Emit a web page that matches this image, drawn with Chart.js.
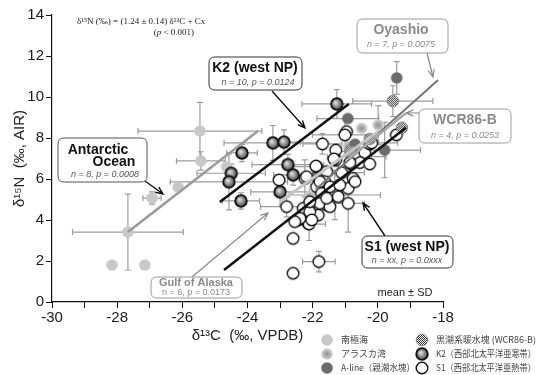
<!DOCTYPE html>
<html>
<head>
<meta charset="utf-8">
<script src="https://cdn.jsdelivr.net/npm/chart.js@4.4.0/dist/chart.umd.min.js"></script>
<style>
  html, body { margin: 0; padding: 0; background: #fff; }
  #wrap { width: 536px; height: 375px; }
</style>
</head>
<body>
<div id="wrap"><canvas id="chart" width="536" height="375"></canvas></div>
<script>
// ---- data ----
// 南極海 (Antarctic Ocean)
const antX  = [-27.67, -28.16, -27.15, -26.93, -26.13, -25.46, -25.43, -24.64];
const antY  = [3.41, 1.80, 1.80, 5.07, 5.60, 8.34, 6.88, 6.60];
const antXe = [1.70, 0, 0, 0.28, 0, 1.90, 0.75, 0];
const antYe = [1.85, 0, 0, 0.30, 0, 1.40, 0.45, 0];

// アラスカ湾 (Gulf of Alaska)
const gulfX  = [-20.50, -19.99, -21.32, -22.09, -21.60, -20.90];
const gulfY  = [8.47, 8.63, 7.00, 5.14, 6.30, 7.60];
const gulfXe = [0, 0, 0, 0, 0, 0];
const gulfYe = [0, 0.95, 0, 0, 0, 0];

// A-line (親潮水塊)
const alX  = [-19.42, -20.92, -20.70, -19.79, -21.35, -20.55, -21.90];
const alY  = [10.93, 8.95, 7.70, 7.41, 6.95, 6.80, 6.10];
const alXe = [0, 0.95, 0, 1.10, 0, 0, 0];
const alYe = [0.80, 0, 0, 1.35, 0, 0, 0];

// 黒潮系暖水塊 (WCR86-B)
const wcrX  = [-19.54, -19.26, -20.25, -20.85];
const wcrY  = [9.80, 8.50, 7.95, 7.35];
const wcrXe = [1.23, 0, 0, 0];
const wcrYe = [0.75, 0, 0, 0];

// K2 (西部北太平洋亜寒帯)
const k2X  = [-24.17, -24.50, -24.57, -24.20, -21.26, -23.22, -22.88, -22.76, -22.60, -23.00];
const k2Y  = [7.27, 6.28, 5.86, 4.93, 9.66, 7.76, 7.80, 6.70, 6.20, 5.37];
const k2Xe = [0.47, 1.05, 1.80, 0.57, 1.07, 1.50, 0.50, 1.10, 0.60, 0.90];
const k2Ye = [0.42, 0.45, 1.37, 0.40, 0.70, 0.85, 0.60, 0.50, 0.50, 0.70];

// S1 (西部北太平洋亜熱帯)
const s1X = [-21.70, -21.29, -20.65, -20.40, -21.88, -21.29, -20.81, -21.57, -21.11, -20.76,
             -23.03, -22.24, -21.63, -21.88, -21.37, -20.91, -21.73, -21.27, -22.80, -22.09,
             -21.57, -20.91, -22.29, -21.83, -22.44, -22.14, -22.29, -22.09, -21.78, -21.47,
             -21.32, -22.60, -21.81, -22.60, -20.96, -21.01, -20.25, -19.43, -20.19, -20.55,
             -20.86, -20.25, -21.90, -21.35, -22.11, -22.19, -21.78, -21.47, -21.22, -21.57,
             -22.09, -22.39, -22.03, -22.55, -20.70, -21.17];
const s1Y = [7.71, 7.41, 7.09, 7.28, 6.60, 6.93, 6.73, 6.36, 6.31, 6.03,
             5.95, 6.03, 5.87, 5.62, 5.54, 5.54, 5.30, 5.30, 4.65, 4.73,
             4.73, 4.81, 4.24, 4.24, 4.00, 3.84, 4.57, 4.40, 4.81, 4.65,
             5.22, 3.10, 1.97, 1.40, 8.31, 8.15, 7.71, 8.15, 7.76, 6.80,
             6.80, 6.73, 6.63, 6.98, 3.80, 6.11, 5.87, 5.62, 5.14, 5.06,
             4.89, 4.08, 4.00, 3.92, 5.87, 5.71];
const s1Xe = [0.6, 0, 0.9, 0, 1.0, 0, 0, 0, 0.7, 0,
              0, 0, 0, 0, 0, 0, 0, 0, 0.8, 0,
              0, 0.5, 0, 0, 0, 0, 0, 0, 0, 0,
              1.4, 0, 0.5, 0, 0, 1.0, 0, 0, 0.8, 0,
              0, 0, 0, 0, 0.5, 0, 0, 0, 0, 0,
              0, 0, 0, 0, 0, 0];
const s1Ye = [0.5, 0, 0, 0, 0, 0, 0, 0, 0, 0,
              0, 0.9, 0, 0, 0, 0, 0, 0, 0.5, 0,
              0, 1.4, 0, 0, 0, 0, 0, 0, 0, 0,
              1.2, 0, 0.5, 0, 0, 0.8, 0, 0, 0, 0,
              0.7, 0, 0, 0, 0.8, 0, 0, 0, 0, 0,
              0, 0, 0, 0, 0, 0];

// regression lines (end points)
const antLineX  = [-27.67, -23.68], antLineY  = [3.41, 8.34];
const k2LineX   = [-24.85, -20.89], k2LineY   = [4.88, 9.66];
const s1LineX   = [-24.72, -19.14], s1LineY   = [1.56, 8.50];
const oyaLineX  = [-21.90, -18.15], oyaLineY  = [5.50, 10.83];
const gulfLineX = [-23.00, -20.00], gulfLineY = [4.90, 8.30];
const wcrLineX  = [-20.90, -19.15], wcrLineY  = [7.00, 9.20];

const yTicks = [0, 2, 4, 6, 8, 10, 12, 14];
const xTicks = [-30, -28, -26, -24, -22, -20, -18];

// ---- markers ----
function makeMarker(kind) {
    const s = 16, r = 5.8, cx = s / 2, cy = s / 2;
    const c = document.createElement('canvas');
    c.width = s; c.height = s;
    const g = c.getContext('2d');
    g.beginPath();
    g.arc(cx, cy, r, 0, Math.PI * 2);
    if (kind === 'ant') {
        g.fillStyle = '#c8c8c8'; g.fill();
    } else if (kind === 'aline') {
        g.fillStyle = '#6b6b6b'; g.fill();
    } else if (kind === 'gulf') {
        const gr = g.createRadialGradient(cx, cy, 1, cx, cy, r);
        gr.addColorStop(0, '#9a9a9a'); gr.addColorStop(1, '#d6d6d6');
        g.fillStyle = gr; g.fill();
    } else if (kind === 'wcr') {
        const p = document.createElement('canvas');
        p.width = 2; p.height = 2;
        const pg = p.getContext('2d');
        pg.fillStyle = '#fff'; pg.fillRect(0, 0, 2, 2);
        pg.fillStyle = '#333'; pg.fillRect(0, 0, 1, 1); pg.fillRect(1, 1, 1, 1);
        g.fillStyle = g.createPattern(p, 'repeat'); g.fill();
        g.strokeStyle = '#777'; g.lineWidth = 0.8; g.stroke();
    } else if (kind === 'k2') {
        const gr = g.createRadialGradient(cx - 1.5, cy - 1.5, 0.5, cx, cy, r);
        gr.addColorStop(0, '#e0e0e0'); gr.addColorStop(1, '#4a4a4a');
        g.fillStyle = gr; g.fill();
        g.strokeStyle = '#111'; g.lineWidth = 1.8; g.stroke();
    } else {
        g.fillStyle = '#fff'; g.fill();
        g.strokeStyle = '#111'; g.lineWidth = 1.4; g.stroke();
    }
    return c;
}
const mk = {
    ant: makeMarker('ant'), gulf: makeMarker('gulf'), aline: makeMarker('aline'),
    wcr: makeMarker('wcr'), k2: makeMarker('k2'), s1: makeMarker('s1')
};

const pts = (xs, ys) => xs.map((x, i) => ({ x: x, y: ys[i] }));

function pointSet(label, xs, ys, marker, order) {
    return { label: label, data: pts(xs, ys), pointStyle: marker, pointRadius: 6,
             showLine: false, order: order };
}
function lineSet(xs, ys, color, width) {
    return { data: pts(xs, ys), showLine: true, pointRadius: 0, borderColor: color,
             borderWidth: width, order: 0 };
}

const errGroups = [
    [antX, antY, antXe, antYe], [gulfX, gulfY, gulfXe, gulfYe], [alX, alY, alXe, alYe],
    [wcrX, wcrY, wcrXe, wcrYe], [k2X, k2Y, k2Xe, k2Ye], [s1X, s1Y, s1Xe, s1Ye]
];

// error bars behind the points
const errorBars = {
    id: 'errorBars',
    beforeDatasetsDraw(chart) {
        const { ctx, scales } = chart;
        const sx = scales.x, sy = scales.y, cap = 3;
        ctx.save();
        ctx.strokeStyle = '#9c9c9c';
        ctx.lineWidth = 1.2;
        errGroups.forEach(([xs, ys, xe, ye]) => {
            xs.forEach((v, i) => {
                const px = sx.getPixelForValue(v), py = sy.getPixelForValue(ys[i]);
                ctx.beginPath();
                if (xe[i] > 0) {
                    const a = sx.getPixelForValue(v - xe[i]), b = sx.getPixelForValue(v + xe[i]);
                    ctx.moveTo(a, py); ctx.lineTo(b, py);
                    ctx.moveTo(a, py - cap); ctx.lineTo(a, py + cap);
                    ctx.moveTo(b, py - cap); ctx.lineTo(b, py + cap);
                }
                if (ye[i] > 0) {
                    const a = sy.getPixelForValue(ys[i] - ye[i]), b = sy.getPixelForValue(ys[i] + ye[i]);
                    ctx.moveTo(px, a); ctx.lineTo(px, b);
                    ctx.moveTo(px - cap, a); ctx.lineTo(px + cap, a);
                    ctx.moveTo(px - cap, b); ctx.lineTo(px + cap, b);
                }
                ctx.stroke();
            });
        });
        ctx.restore();
    }
};

function roundRect(ctx, x, y, w, h, r) {
    ctx.beginPath();
    ctx.moveTo(x + r, y);
    ctx.lineTo(x + w - r, y); ctx.quadraticCurveTo(x + w, y, x + w, y + r);
    ctx.lineTo(x + w, y + h - r); ctx.quadraticCurveTo(x + w, y + h, x + w - r, y + h);
    ctx.lineTo(x + r, y + h); ctx.quadraticCurveTo(x, y + h, x, y + h - r);
    ctx.lineTo(x, y + r); ctx.quadraticCurveTo(x, y, x + r, y);
    ctx.closePath();
}

function arrow(ctx, x1, y1, x2, y2, color, w) {
    const a = Math.atan2(y2 - y1, x2 - x1), L = 8, s = 0.4;
    ctx.save();
    ctx.strokeStyle = color; ctx.lineWidth = w;
    ctx.beginPath();
    ctx.moveTo(x1, y1); ctx.lineTo(x2, y2);
    ctx.moveTo(x2 - L * Math.cos(a - s), y2 - L * Math.sin(a - s));
    ctx.lineTo(x2, y2);
    ctx.lineTo(x2 - L * Math.cos(a + s), y2 - L * Math.sin(a + s));
    ctx.stroke();
    ctx.restore();
}

const SANS = '"Liberation Sans", Arial, sans-serif';
const boxes = [
    { r: [58, 138, 89, 44], border: '#555', color: '#111',
      titles: [['Antarctic', 98, 150], ['Ocean', 114, 162]], sub: ['n = 8, p = 0.0008', 105, 174],
      tf: 'bold 14px', sf: 'italic 9px', arrow: [145, 181, 163, 194] },
    { r: [209, 57, 93, 33], border: '#333', color: '#111',
      titles: [['K2 (west NP)', 255, 68]], sub: ['n = 10, p = 0.0124', 258, 82],
      tf: 'bold 14px', sf: 'italic 9px', arrow: [272, 91, 305, 128] },
    { r: [357, 19, 91, 34], border: '#9a9a9a', color: '#8a8a8a',
      titles: [['Oyashio', 401, 30]], sub: ['n = 7, p = 0.0075', 401, 44],
      tf: 'bold 14px', sf: 'italic 9px', arrow: [427, 53, 433, 77] },
    { r: [419, 109, 92, 34], border: '#9a9a9a', color: '#8a8a8a',
      titles: [['WCR86-B', 465, 120]], sub: ['n = 4, p = 0.0253', 465, 135],
      tf: 'bold 14px', sf: 'italic 9px', arrow: [419, 113, 406, 113] },
    { r: [362, 236, 91, 32], border: '#333', color: '#111',
      titles: [['S1 (west NP)', 407, 247]], sub: ['n = xx, p = 0.0xxx', 407, 260],
      tf: 'bold 14px', sf: 'italic 9px', arrow: [385, 236, 363, 203] },
    { r: [151, 277, 91, 21], border: '#9a9a9a', color: '#8a8a8a',
      titles: [['Gulf of Alaska', 196, 283]], sub: ['n = 6, p = 0.0173', 196, 293],
      tf: 'bold 11px', sf: '9px', arrow: [192, 277, 268, 213] }
];

const legendItems = [
    [mk.ant, '南極海', 327, 340, 74], [mk.gulf, 'アラスカ湾', 327, 354, 74],
    [mk.aline, 'A-line（親潮水塊）', 327, 368, 74],
    [mk.wcr, '黒潮系暖水塊 (WCR86-B)', 422, 340, 100], [mk.k2, 'K2（西部北太平洋亜寒帯）', 422, 354, 100],
    [mk.s1, 'S1（西部北太平洋亜熱帯）', 422, 368, 100]
];

const annotations = {
    id: 'annotations',
    afterDraw(chart) {
        const ctx = chart.ctx;
        ctx.save();
        boxes.forEach(b => {
            const grey = b.border === '#9a9a9a';
            arrow(ctx, b.arrow[0], b.arrow[1], b.arrow[2], b.arrow[3], grey ? '#8a8a8a' : '#111', grey ? 1.2 : 1.4);
            roundRect(ctx, b.r[0], b.r[1], b.r[2], b.r[3], 6);
            ctx.fillStyle = '#fff'; ctx.fill();
            ctx.strokeStyle = b.border; ctx.lineWidth = 1; ctx.stroke();
            ctx.textAlign = 'center'; ctx.textBaseline = 'middle';
            ctx.fillStyle = b.color;
            ctx.font = b.tf + ' ' + SANS;
            b.titles.forEach(t => ctx.fillText(t[0], t[1], t[2]));
            ctx.fillStyle = grey ? '#8a8a8a' : '#555';
            ctx.font = b.sf + ' ' + SANS;
            ctx.fillText(b.sub[0], b.sub[1], b.sub[2]);
        });

        // equation
        const SERIF = '"Liberation Serif", "DejaVu Serif", serif';
        ctx.fillStyle = '#222';
        ctx.textBaseline = 'middle';
        ctx.font = '9px ' + SERIF;
        ctx.textAlign = 'left';
        ctx.fillText('δ¹⁵N (‰) = (1.24 ± 0.14) δ¹³C + Cx', 77, 22);
        ctx.textAlign = 'right';
        ctx.fillText(' < 0.001)', 194, 33);
        const w1 = ctx.measureText(' < 0.001)').width;
        ctx.font = 'italic 9px ' + SERIF;
        ctx.fillText('p', 194 - w1, 33);
        const w2 = ctx.measureText('p').width;
        ctx.font = '9px ' + SERIF;
        ctx.fillText('(', 194 - w1 - w2, 33);

        // mean ± SD
        ctx.textAlign = 'center';
        ctx.fillStyle = '#222';
        ctx.font = '11px ' + SANS;
        ctx.fillText('mean ± SD', 405, 293);

        // legend
        ctx.textAlign = 'left';
        ctx.font = '9px "Noto Sans CJK JP", sans-serif';
        ctx.fillStyle = '#444';
        legendItems.forEach(([img, txt, x, y, mw]) => {
            ctx.drawImage(img, x - img.width / 2, y - img.height / 2);
            ctx.fillText(txt, x + 14, y, mw);
        });
        ctx.restore();
    }
};

new Chart(document.getElementById('chart'), {
    type: 'scatter',
    data: {
        datasets: [
            lineSet(gulfLineX, gulfLineY, '#c4c4c4', 3),
            lineSet(wcrLineX, wcrLineY, '#a8a8a8', 2.5),
            lineSet(oyaLineX, oyaLineY, '#757575', 2),
            lineSet(antLineX, antLineY, '#9a9a9a', 2.5),
            lineSet(k2LineX, k2LineY, '#111', 2.5),
            lineSet(s1LineX, s1LineY, '#111', 2.5),
            pointSet('K2', k2X, k2Y, mk.k2, 1),
            pointSet('WCR86-B', wcrX, wcrY, mk.wcr, 2),
            pointSet('S1', s1X, s1Y, mk.s1, 3),
            pointSet('A-line', alX, alY, mk.aline, 4),
            pointSet('Gulf of Alaska', gulfX, gulfY, mk.gulf, 5),
            pointSet('Antarctic', antX, antY, mk.ant, 6)
        ]
    },
    options: {
        responsive: false,
        devicePixelRatio: 1,
        animation: false,
        layout: { padding: { top: 15, right: 93, left: 0, bottom: 0 } },
        plugins: { legend: { display: false }, tooltip: { enabled: false } },
        scales: {
            x: {
                type: 'linear', min: xTicks[0], max: xTicks[xTicks.length - 1],
                afterFit: s => { s.height = 73; },
                border: { display: true, color: '#111', width: 1.2 },
                grid: { display: true, drawOnChartArea: false, drawTicks: true, tickLength: 6, color: '#111' },
                ticks: { stepSize: 1, padding: 1, color: '#1a1a1a', font: { family: SANS, size: 15 },
                         callback: v => xTicks.includes(v) ? v : '' },
                title: { display: true, text: 'δ¹³C  (‰, VPDB)', color: '#222',
                         font: { family: SANS, size: 15 }, padding: { top: 0, bottom: 30 } }
            },
            y: {
                type: 'linear', min: yTicks[0], max: yTicks[yTicks.length - 1],
                afterFit: s => { s.width = 52; },
                border: { display: true, color: '#111', width: 1.2 },
                grid: { display: true, drawOnChartArea: false, drawTicks: true, tickLength: 6, color: '#111' },
                ticks: { stepSize: 1, padding: 2, color: '#1a1a1a', font: { family: SANS, size: 15 },
                         callback: v => yTicks.includes(v) ? v : '' },
                title: { display: true, text: 'δ¹⁵N  (‰, AIR)', color: '#222',
                         font: { family: SANS, size: 15 }, padding: { top: 11, bottom: 0 } }
            }
        }
    },
    plugins: [errorBars, annotations]
});
</script>
</body>
</html>
